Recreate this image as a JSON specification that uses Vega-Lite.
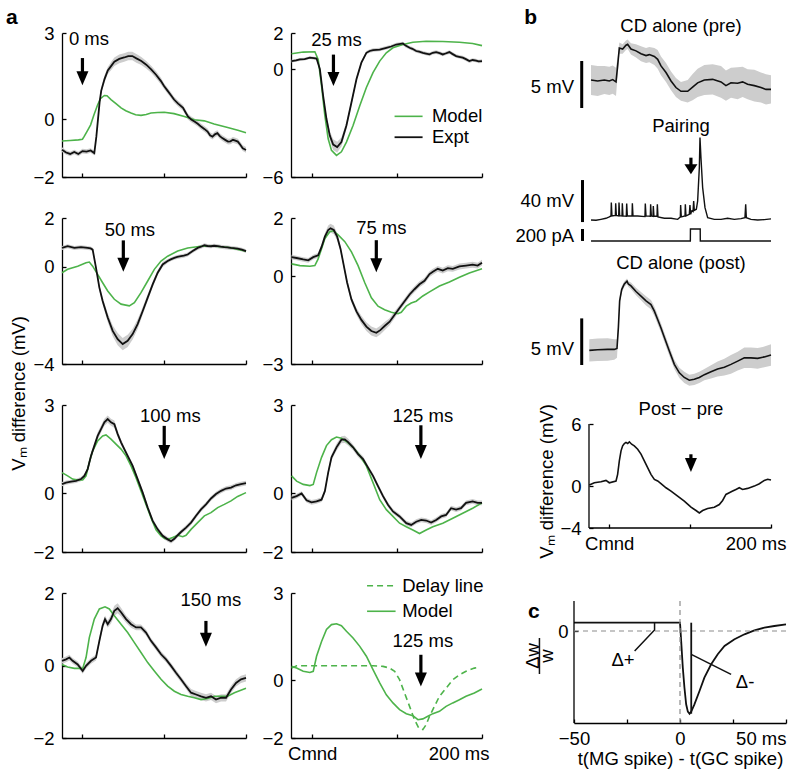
{
"$schema":"https://vega.github.io/schema/vega-lite/v6.json",
"padding":{"left":5,"top":6,"right":2,"bottom":2},
"columns":4,"align":"each","bounds":"flush","spacing":{"row":41,"column":45},
"config":{"font":"Liberation Sans","view":{"stroke":null},
"axis":{"domainColor":"#000","domainWidth":1.3,"tickColor":"#000","tickWidth":1.3,"tickSize":-4,"labelFontSize":18.5,"labelColor":"#000","labelFont":"Liberation Sans","grid":false,"titleFontSize":18.5,"titleFontWeight":"normal","titleColor":"#000","titleFont":"Liberation Sans","labelFlush":false,"labelOverlap":false},
"axisX":{"labelPadding":10},"axisY":{"labelPadding":12},
"text":{"font":"Liberation Sans","fontSize":18.5,"color":"#000"}},
"datasets":{
"arr":[{"p":"a1","t":0,"ys":2.13,"yh":1.43,"tx":8,"ty":2.79,"lab":"0 ms"},{"p":"a2","t":25,"ys":0.8,"yh":-0.55,"tx":28.6,"ty":1.59,"lab":"25 ms"},{"p":"a3","t":50,"ys":1.08,"yh":0.08,"tx":58,"ty":1.52,"lab":"50 ms"},{"p":"a4","t":75.5,"ys":1.24,"yh":0.38,"tx":81.4,"ty":1.65,"lab":"75 ms"},{"p":"a5","t":100,"ys":2.29,"yh":1.4,"tx":107.5,"ty":2.61,"lab":"100 ms"},{"p":"a6","t":128,"ys":2.31,"yh":1.4,"tx":130.3,"ty":2.63,"lab":"125 ms"},{"p":"a7","t":151,"ys":1.23,"yh":0.71,"tx":157,"ty":1.81,"lab":"150 ms"},{"p":"a8","t":128,"ys":0.87,"yh":0.02,"tx":130.3,"ty":1.36,"lab":"125 ms"},{"p":"pair","t":101,"ys":59.3,"yh":48.3,"tx":101,"ty":70,"lab":""},{"p":"pp","t":101,"ys":3.09,"yh":2.06,"tx":101,"ty":4,"lab":""}],
"tk":[{"p":"a1","v":-1},{"p":"a1","v":1},{"p":"a1","v":2},{"p":"a2","v":-4},{"p":"a2","v":-2},{"p":"a3","v":-2},{"p":"a4","v":-2},{"p":"a4","v":-1},{"p":"a4","v":1},{"p":"a5","v":-1},{"p":"a5","v":1},{"p":"a5","v":2},{"p":"a6","v":-1},{"p":"a6","v":1},{"p":"a6","v":2},{"p":"a7","v":-1},{"p":"a7","v":1},{"p":"a8","v":-1},{"p":"a8","v":1},{"p":"a8","v":2},{"p":"pp","v":-2},{"p":"pp","v":2},{"p":"pp","v":4}],
"leg":[{"p":"a2","x1":97,"x2":130,"ly":-2.63,"tx":141,"lab":"Model"},{"p":"a2","x1":97,"x2":130,"ly":-3.79,"tx":141,"lab":"Expt"},{"p":"a8","x1":64.6,"x2":98.2,"ly":3.25,"tx":106,"lab":"Delay line"},{"p":"a8","x1":64.6,"x2":98.2,"ly":2.37,"tx":106,"lab":"Model"}],
"sb":[{"p":"pre","t":-34,"y1":-2.98,"y2":2.02,"tx":-43.5,"ty":-0.74,"lab":"5 mV"},{"p":"pair","t":-33,"y1":-2,"y2":38,"tx":-43.5,"ty":18,"lab":"40 mV"},{"p":"pair","t":-33,"y1":-20,"y2":-8.6,"tx":-43.5,"ty":-15.2,"lab":"200 pA"},{"p":"post","t":-34,"y1":-1.57,"y2":3.42,"tx":-43.5,"ty":0.14,"lab":"5 mV"}],
"a1e":[{"t":-25,"e":-1.05,"w":0.08},{"t":-20,"e":-1.15,"w":0.08},{"t":-15,"e":-1.2,"w":0.08},{"t":-10,"e":-1.13,"w":0.08},{"t":-5,"e":-1.2,"w":0.08},{"t":0,"e":-1.1,"w":0.08},{"t":5,"e":-1.12,"w":0.08},{"t":10,"e":-1.08,"w":0.08},{"t":14.5,"e":-1.17,"w":0.08},{"t":17,"e":-0.6,"w":0.1},{"t":19,"e":0,"w":0.1},{"t":21,"e":0.6,"w":0.1},{"t":23,"e":1,"w":0.1},{"t":27,"e":1.4,"w":0.12},{"t":31,"e":1.7,"w":0.12},{"t":35,"e":1.85,"w":0.14},{"t":39,"e":2,"w":0.15},{"t":45,"e":2.1,"w":0.15},{"t":51,"e":2.15,"w":0.15},{"t":56,"e":2.2,"w":0.15},{"t":61,"e":2.2,"w":0.15},{"t":66,"e":2.12,"w":0.15},{"t":72,"e":2.03,"w":0.14},{"t":78,"e":1.9,"w":0.13},{"t":84,"e":1.74,"w":0.12},{"t":90,"e":1.55,"w":0.12},{"t":96,"e":1.33,"w":0.12},{"t":100,"e":1.15,"w":0.1},{"t":104,"e":1,"w":0.1},{"t":108,"e":0.85,"w":0.1},{"t":112,"e":0.69,"w":0.1},{"t":117,"e":0.55,"w":0.1},{"t":123,"e":0.4,"w":0.1},{"t":126,"e":0.25,"w":0.1},{"t":129,"e":0.1,"w":0.1},{"t":133,"e":0,"w":0.1},{"t":137,"e":-0.07,"w":0.1},{"t":141,"e":-0.15,"w":0.1},{"t":145,"e":-0.25,"w":0.1},{"t":149,"e":-0.33,"w":0.1},{"t":153,"e":-0.42,"w":0.1},{"t":156,"e":-0.55,"w":0.1},{"t":159,"e":-0.6,"w":0.1},{"t":162,"e":-0.52,"w":0.1},{"t":165,"e":-0.48,"w":0.1},{"t":168,"e":-0.58,"w":0.1},{"t":171,"e":-0.65,"w":0.1},{"t":175,"e":-0.72,"w":0.1},{"t":178,"e":-0.77,"w":0.1},{"t":181,"e":-0.76,"w":0.1},{"t":184,"e":-0.71,"w":0.1},{"t":187,"e":-0.74,"w":0.1},{"t":190,"e":-0.77,"w":0.1},{"t":193,"e":-0.88,"w":0.1},{"t":196,"e":-1,"w":0.1},{"t":200,"e":-1.06,"w":0.1}],
"a1m":[{"t":-25,"m":-0.75},{"t":-15,"m":-0.73},{"t":-5,"m":-0.71},{"t":0,"m":-0.69},{"t":2,"m":-0.6},{"t":6,"m":-0.4},{"t":10,"m":-0.19},{"t":14,"m":0.15},{"t":18.6,"m":0.51},{"t":22,"m":0.72},{"t":26.8,"m":0.83},{"t":30,"m":0.82},{"t":34.9,"m":0.69},{"t":41,"m":0.55},{"t":47.2,"m":0.4},{"t":53,"m":0.3},{"t":59.4,"m":0.22},{"t":65,"m":0.16},{"t":71.6,"m":0.14},{"t":78,"m":0.17},{"t":83.8,"m":0.22},{"t":92,"m":0.24},{"t":100,"m":0.25},{"t":112,"m":0.2},{"t":124.6,"m":0.1},{"t":136.8,"m":-0.01},{"t":149,"m":-0.05},{"t":161,"m":-0.16},{"t":177.6,"m":-0.28},{"t":190,"m":-0.38},{"t":200,"m":-0.46}],
"a2e":[{"t":-24.3,"e":0.44,"w":0.08},{"t":-19,"e":0.48,"w":0.08},{"t":-14.5,"e":0.53,"w":0.08},{"t":-9,"e":0.55,"w":0.08},{"t":-2.7,"e":0.63,"w":0.08},{"t":2,"e":0.6,"w":0.08},{"t":5.1,"e":0.58,"w":0.08},{"t":9,"e":0,"w":0.1},{"t":12.9,"e":-1.5,"w":0.15},{"t":16.8,"e":-2.78,"w":0.2},{"t":20.7,"e":-3.7,"w":0.25},{"t":24.7,"e":-4.2,"w":0.3},{"t":29.4,"e":-4.34,"w":0.3},{"t":34.4,"e":-4.06,"w":0.25},{"t":40.3,"e":-3.14,"w":0.2},{"t":46.2,"e":-1.86,"w":0.15},{"t":52.1,"e":-0.57,"w":0.12},{"t":57.9,"e":0.35,"w":0.1},{"t":63.8,"e":0.9,"w":0.1},{"t":67.7,"e":1,"w":0.1},{"t":71.6,"e":1.05,"w":0.1},{"t":79.5,"e":1.08,"w":0.1},{"t":87.3,"e":1.18,"w":0.1},{"t":93,"e":1.25,"w":0.1},{"t":99,"e":1.36,"w":0.1},{"t":106.8,"e":1.42,"w":0.1},{"t":110,"e":1.3,"w":0.1},{"t":114.7,"e":1.18,"w":0.1},{"t":118,"e":1.12,"w":0.1},{"t":122.5,"e":1,"w":0.1},{"t":126,"e":0.96,"w":0.1},{"t":130.3,"e":0.9,"w":0.1},{"t":134,"e":0.86,"w":0.1},{"t":138.2,"e":0.81,"w":0.1},{"t":142,"e":0.9,"w":0.1},{"t":146,"e":0.94,"w":0.1},{"t":150,"e":0.88,"w":0.1},{"t":153.8,"e":0.81,"w":0.1},{"t":157,"e":0.86,"w":0.1},{"t":161.6,"e":0.94,"w":0.1},{"t":165,"e":0.84,"w":0.1},{"t":169.5,"e":0.72,"w":0.1},{"t":173,"e":0.68,"w":0.1},{"t":177.3,"e":0.63,"w":0.1},{"t":181,"e":0.55,"w":0.1},{"t":185.1,"e":0.44,"w":0.1},{"t":189,"e":0.5,"w":0.1},{"t":193,"e":0.47,"w":0.1},{"t":196,"e":0.42,"w":0.1},{"t":200,"e":0.44,"w":0.1}],
"a2m":[{"t":-24.3,"m":0.85},{"t":-10.6,"m":0.94},{"t":3.1,"m":0.96},{"t":7,"m":0.53},{"t":11,"m":-0.94},{"t":14.9,"m":-2.59},{"t":18.8,"m":-3.88},{"t":22.7,"m":-4.52},{"t":28.6,"m":-4.8},{"t":34.4,"m":-4.6},{"t":40.3,"m":-4.06},{"t":48.1,"m":-3.14},{"t":56,"m":-2.04},{"t":63.8,"m":-1.03},{"t":71.6,"m":-0.2},{"t":79.5,"m":0.44},{"t":87.3,"m":0.9},{"t":95.1,"m":1.18},{"t":106.8,"m":1.36},{"t":118.6,"m":1.49},{"t":134.2,"m":1.54},{"t":153.8,"m":1.53},{"t":173.4,"m":1.49},{"t":189,"m":1.42},{"t":200,"m":1.3}],
"a3e":[{"t":-25,"e":0.77,"w":0.08},{"t":-18.1,"e":0.84,"w":0.08},{"t":-9.9,"e":0.77,"w":0.08},{"t":-1.8,"e":0.8,"w":0.08},{"t":6.4,"e":0.77,"w":0.08},{"t":10,"e":0.75,"w":0.08},{"t":12.5,"e":0.7,"w":0.08},{"t":16.6,"e":-0.05,"w":0.1},{"t":20.7,"e":-0.86,"w":0.12},{"t":24.7,"e":-1.41,"w":0.14},{"t":30.9,"e":-2.09,"w":0.18},{"t":37,"e":-2.64,"w":0.22},{"t":43.1,"e":-2.98,"w":0.25},{"t":49.2,"e":-3.18,"w":0.25},{"t":55.3,"e":-3.05,"w":0.25},{"t":61.4,"e":-2.77,"w":0.22},{"t":67.5,"e":-2.36,"w":0.2},{"t":73.7,"e":-1.82,"w":0.16},{"t":79.8,"e":-1.27,"w":0.14},{"t":85.9,"e":-0.73,"w":0.12},{"t":92,"e":-0.25,"w":0.1},{"t":98.1,"e":0.09,"w":0.1},{"t":104.2,"e":0.23,"w":0.08},{"t":108,"e":0.3,"w":0.08},{"t":112.4,"e":0.36,"w":0.08},{"t":116,"e":0.4,"w":0.08},{"t":120.5,"e":0.43,"w":0.08},{"t":124,"e":0.45,"w":0.08},{"t":128.7,"e":0.5,"w":0.08},{"t":134.8,"e":0.64,"w":0.08},{"t":140.9,"e":0.77,"w":0.08},{"t":145,"e":0.82,"w":0.08},{"t":149.1,"e":0.88,"w":0.08},{"t":153,"e":0.85,"w":0.08},{"t":157.2,"e":0.84,"w":0.08},{"t":161,"e":0.86,"w":0.08},{"t":165.4,"e":0.84,"w":0.08},{"t":169,"e":0.82,"w":0.08},{"t":173.5,"e":0.8,"w":0.08},{"t":177,"e":0.79,"w":0.08},{"t":181.7,"e":0.77,"w":0.08},{"t":185,"e":0.76,"w":0.08},{"t":189.8,"e":0.74,"w":0.08},{"t":195,"e":0.7,"w":0.08},{"t":200,"e":0.64,"w":0.08}],
"a3m":[{"t":-25,"m":-0.25},{"t":-18.1,"m":-0.11},{"t":-5.8,"m":0.02},{"t":4.4,"m":0.16},{"t":8.4,"m":0.19},{"t":12.5,"m":0.02},{"t":18.6,"m":-0.32},{"t":24.7,"m":-0.66},{"t":30.9,"m":-1},{"t":39,"m":-1.34},{"t":47.2,"m":-1.54},{"t":57.3,"m":-1.61},{"t":63.5,"m":-1.48},{"t":71.6,"m":-1.07},{"t":79.8,"m":-0.59},{"t":87.9,"m":-0.11},{"t":96.1,"m":0.23},{"t":104.2,"m":0.43},{"t":116.5,"m":0.64},{"t":128.7,"m":0.77},{"t":145,"m":0.84},{"t":161.3,"m":0.84},{"t":177.6,"m":0.8},{"t":200,"m":0.64}],
"a4e":[{"t":-24.3,"e":0.66,"w":0.08},{"t":-18.4,"e":0.63,"w":0.08},{"t":-10.6,"e":0.58,"w":0.08},{"t":-4.7,"e":0.55,"w":0.08},{"t":1.2,"e":0.66,"w":0.08},{"t":7,"e":0.72,"w":0.08},{"t":11,"e":1.01,"w":0.1},{"t":14.9,"e":1.36,"w":0.12},{"t":18.8,"e":1.59,"w":0.15},{"t":21.5,"e":1.65,"w":0.15},{"t":25.4,"e":1.59,"w":0.15},{"t":29.4,"e":1.36,"w":0.12},{"t":33.3,"e":0.95,"w":0.1},{"t":37.2,"e":0.37,"w":0.1},{"t":41.1,"e":-0.21,"w":0.1},{"t":46.2,"e":-0.79,"w":0.1},{"t":52.1,"e":-1.2,"w":0.12},{"t":57.9,"e":-1.49,"w":0.14},{"t":63.8,"e":-1.72,"w":0.15},{"t":69.7,"e":-1.87,"w":0.15},{"t":75.5,"e":-1.93,"w":0.15},{"t":80.2,"e":-1.84,"w":0.15},{"t":85.3,"e":-1.7,"w":0.14},{"t":91.2,"e":-1.55,"w":0.12},{"t":97.1,"e":-1.31,"w":0.12},{"t":102.9,"e":-1.08,"w":0.1},{"t":108.8,"e":-0.85,"w":0.1},{"t":114.7,"e":-0.62,"w":0.1},{"t":120.5,"e":-0.44,"w":0.1},{"t":126.4,"e":-0.27,"w":0.1},{"t":132.3,"e":-0.15,"w":0.1},{"t":138.2,"e":0.08,"w":0.1},{"t":142.1,"e":0.16,"w":0.1},{"t":147.9,"e":0.26,"w":0.1},{"t":153.8,"e":0.2,"w":0.1},{"t":159.7,"e":0.28,"w":0.1},{"t":165.6,"e":0.26,"w":0.1},{"t":173.4,"e":0.34,"w":0.1},{"t":181.2,"e":0.37,"w":0.1},{"t":189,"e":0.4,"w":0.1},{"t":194.9,"e":0.37,"w":0.1},{"t":200,"e":0.47,"w":0.1}],
"a4m":[{"t":-24.3,"m":0.43},{"t":-14.5,"m":0.37},{"t":-2.7,"m":0.35},{"t":3.1,"m":0.37},{"t":7,"m":0.6},{"t":11,"m":0.95},{"t":14.9,"m":1.3},{"t":20.7,"m":1.53},{"t":24.7,"m":1.56},{"t":30.5,"m":1.42},{"t":38.4,"m":1.19},{"t":46.2,"m":0.84},{"t":54,"m":0.37},{"t":61.8,"m":-0.21},{"t":69.7,"m":-0.73},{"t":77.5,"m":-1.02},{"t":85.3,"m":-1.14},{"t":93.2,"m":-1.23},{"t":101,"m":-1.28},{"t":104.9,"m":-1.23},{"t":110.8,"m":-1.02},{"t":116.6,"m":-0.91},{"t":122.5,"m":-0.85},{"t":130.3,"m":-0.67},{"t":138.2,"m":-0.53},{"t":149.9,"m":-0.33},{"t":161.6,"m":-0.19},{"t":173.4,"m":-0.03},{"t":185.1,"m":0.12},{"t":200,"m":0.26}],
"a5e":[{"t":-25,"e":0.31,"w":0.07},{"t":-20.1,"e":0.36,"w":0.07},{"t":-14,"e":0.39,"w":0.07},{"t":-7.9,"e":0.42,"w":0.07},{"t":-1.8,"e":0.48,"w":0.07},{"t":2.3,"e":0.59,"w":0.07},{"t":6.4,"e":0.82,"w":0.08},{"t":10.5,"e":1.27,"w":0.1},{"t":14.5,"e":1.61,"w":0.1},{"t":18.6,"e":1.95,"w":0.12},{"t":22.7,"e":2.18,"w":0.12},{"t":26.8,"e":2.41,"w":0.12},{"t":30.9,"e":2.52,"w":0.12},{"t":34.9,"e":2.41,"w":0.12},{"t":39,"e":2.35,"w":0.12},{"t":43.1,"e":2.01,"w":0.1},{"t":47.2,"e":1.73,"w":0.1},{"t":51.2,"e":1.5,"w":0.08},{"t":55.3,"e":1.27,"w":0.08},{"t":61.4,"e":0.93,"w":0.08},{"t":67.5,"e":0.48,"w":0.08},{"t":73.7,"e":0.02,"w":0.08},{"t":79.8,"e":-0.49,"w":0.08},{"t":85.9,"e":-0.94,"w":0.08},{"t":92,"e":-1.23,"w":0.08},{"t":98.1,"e":-1.45,"w":0.08},{"t":104.2,"e":-1.57,"w":0.08},{"t":108.3,"e":-1.63,"w":0.08},{"t":112.4,"e":-1.55,"w":0.08},{"t":116.5,"e":-1.43,"w":0.08},{"t":120.5,"e":-1.32,"w":0.08},{"t":126.7,"e":-1.17,"w":0.08},{"t":132.8,"e":-1,"w":0.08},{"t":138.9,"e":-0.77,"w":0.08},{"t":145,"e":-0.55,"w":0.08},{"t":151.1,"e":-0.38,"w":0.08},{"t":157.2,"e":-0.18,"w":0.08},{"t":163.3,"e":-0.03,"w":0.08},{"t":169.5,"e":0.08,"w":0.08},{"t":175.6,"e":0.16,"w":0.08},{"t":181.7,"e":0.19,"w":0.08},{"t":187.8,"e":0.27,"w":0.08},{"t":193.9,"e":0.31,"w":0.08},{"t":200,"e":0.34,"w":0.08}],
"a5m":[{"t":-25,"m":0.7},{"t":-18.1,"m":0.59},{"t":-12,"m":0.48},{"t":-5.8,"m":0.45},{"t":0.3,"m":0.45},{"t":4.4,"m":0.59},{"t":8.4,"m":1.05},{"t":12.5,"m":1.44},{"t":18.6,"m":1.78},{"t":24.7,"m":1.95},{"t":28.8,"m":1.98},{"t":34.9,"m":1.84},{"t":41,"m":1.67},{"t":47.2,"m":1.5},{"t":53.3,"m":1.27},{"t":59.4,"m":0.93},{"t":65.5,"m":0.53},{"t":71.6,"m":0.08},{"t":77.7,"m":-0.38},{"t":83.8,"m":-0.83},{"t":90,"m":-1.25},{"t":96.1,"m":-1.45},{"t":101,"m":-1.55},{"t":106.3,"m":-1.55},{"t":110.3,"m":-1.51},{"t":116.5,"m":-1.43},{"t":122.6,"m":-1.48},{"t":126.7,"m":-1.43},{"t":132.8,"m":-1.23},{"t":140.9,"m":-1},{"t":149.1,"m":-0.77},{"t":157.2,"m":-0.66},{"t":165.4,"m":-0.49},{"t":173.5,"m":-0.38},{"t":181.7,"m":-0.26},{"t":189.8,"m":-0.11},{"t":200,"m":0.02}],
"a6e":[{"t":-24.3,"e":-0.16,"w":0.08},{"t":-18.4,"e":-0.1,"w":0.08},{"t":-12.5,"e":-0.01,"w":0.08},{"t":-6.7,"e":-0.24,"w":0.08},{"t":-0.8,"e":-0.31,"w":0.08},{"t":5.1,"e":-0.28,"w":0.08},{"t":11,"e":-0.22,"w":0.08},{"t":14.9,"e":0.07,"w":0.08},{"t":18.8,"e":0.7,"w":0.1},{"t":22.7,"e":1.22,"w":0.1},{"t":28.6,"e":1.56,"w":0.12},{"t":34.4,"e":1.82,"w":0.12},{"t":38.4,"e":1.83,"w":0.12},{"t":42.3,"e":1.74,"w":0.12},{"t":48.1,"e":1.56,"w":0.1},{"t":54,"e":1.33,"w":0.1},{"t":59.9,"e":1.16,"w":0.1},{"t":65.8,"e":0.87,"w":0.08},{"t":71.6,"e":0.59,"w":0.08},{"t":77.5,"e":0.24,"w":0.08},{"t":83.4,"e":-0.1,"w":0.08},{"t":89.2,"e":-0.39,"w":0.08},{"t":95.1,"e":-0.62,"w":0.08},{"t":102.9,"e":-0.79,"w":0.08},{"t":110.8,"e":-1.02,"w":0.08},{"t":116.6,"e":-1.08,"w":0.08},{"t":122.5,"e":-0.97,"w":0.08},{"t":128.4,"e":-0.91,"w":0.08},{"t":134.2,"e":-0.93,"w":0.08},{"t":140.1,"e":-1,"w":0.08},{"t":146,"e":-0.91,"w":0.08},{"t":151.9,"e":-0.79,"w":0.08},{"t":157.7,"e":-0.74,"w":0.08},{"t":163.6,"e":-0.51,"w":0.08},{"t":169.5,"e":-0.56,"w":0.08},{"t":175.3,"e":-0.51,"w":0.08},{"t":181.2,"e":-0.33,"w":0.08},{"t":189,"e":-0.28,"w":0.08},{"t":194.9,"e":-0.33,"w":0.08},{"t":200,"e":-0.33,"w":0.08}],
"a6m":[{"t":-24.3,"m":0.59},{"t":-18.4,"m":0.41},{"t":-10.6,"m":0.3},{"t":-2.7,"m":0.26},{"t":1.2,"m":0.3},{"t":5.1,"m":0.7},{"t":11,"m":1.22},{"t":16.8,"m":1.62},{"t":22.7,"m":1.82},{"t":28.6,"m":1.91},{"t":34.4,"m":1.87},{"t":40.3,"m":1.76},{"t":48.1,"m":1.56},{"t":56,"m":1.28},{"t":63.8,"m":0.93},{"t":71.6,"m":0.36},{"t":79.5,"m":-0.22},{"t":87.3,"m":-0.56},{"t":95.1,"m":-0.79},{"t":102.9,"m":-1.02},{"t":110.8,"m":-1.14},{"t":118.6,"m":-1.25},{"t":126.4,"m":-1.37},{"t":134.2,"m":-1.25},{"t":142.1,"m":-1.14},{"t":153.8,"m":-1.02},{"t":165.6,"m":-0.85},{"t":177.3,"m":-0.68},{"t":189,"m":-0.51},{"t":200,"m":-0.33}],
"a7e":[{"t":-25,"e":0.13,"w":0.08},{"t":-20.1,"e":0.17,"w":0.08},{"t":-16,"e":0.22,"w":0.08},{"t":-12,"e":0.13,"w":0.08},{"t":-5.8,"e":0.03,"w":0.08},{"t":0.3,"e":-0.15,"w":0.08},{"t":4.4,"e":-0.01,"w":0.08},{"t":10.5,"e":0.13,"w":0.08},{"t":16.6,"e":0.22,"w":0.08},{"t":20.7,"e":0.68,"w":0.1},{"t":24.7,"e":1.1,"w":0.1},{"t":27.6,"e":1.28,"w":0.1},{"t":30.9,"e":1.14,"w":0.1},{"t":34.9,"e":1.28,"w":0.12},{"t":39,"e":1.51,"w":0.14},{"t":43.1,"e":1.58,"w":0.14},{"t":47.2,"e":1.47,"w":0.12},{"t":53.3,"e":1.28,"w":0.1},{"t":59.4,"e":1.14,"w":0.1},{"t":65.5,"e":1.05,"w":0.08},{"t":71.6,"e":1.05,"w":0.08},{"t":77.7,"e":0.91,"w":0.08},{"t":83.8,"e":0.68,"w":0.08},{"t":90,"e":0.5,"w":0.08},{"t":96.1,"e":0.31,"w":0.08},{"t":102.2,"e":0.17,"w":0.08},{"t":108.3,"e":-0.01,"w":0.08},{"t":114.4,"e":-0.2,"w":0.08},{"t":120.5,"e":-0.38,"w":0.08},{"t":126.7,"e":-0.57,"w":0.08},{"t":132.8,"e":-0.75,"w":0.1},{"t":138.9,"e":-0.8,"w":0.1},{"t":145,"e":-0.85,"w":0.1},{"t":151.1,"e":-0.89,"w":0.1},{"t":157.2,"e":-0.85,"w":0.1},{"t":163.3,"e":-0.94,"w":0.1},{"t":169.5,"e":-0.89,"w":0.1},{"t":175.6,"e":-0.89,"w":0.1},{"t":181.7,"e":-0.66,"w":0.1},{"t":187.8,"e":-0.48,"w":0.1},{"t":193.9,"e":-0.38,"w":0.1},{"t":200,"e":-0.34,"w":0.1}],
"a7m":[{"t":-25,"m":0.03},{"t":-18.1,"m":-0.04},{"t":-9.9,"m":-0.08},{"t":0.3,"m":-0.08},{"t":4.4,"m":0.22},{"t":8.4,"m":0.77},{"t":14.5,"m":1.28},{"t":20.7,"m":1.56},{"t":27.6,"m":1.62},{"t":32.9,"m":1.56},{"t":39,"m":1.37},{"t":47.2,"m":1.14},{"t":55.3,"m":0.91},{"t":63.5,"m":0.63},{"t":71.6,"m":0.36},{"t":79.8,"m":0.08},{"t":87.9,"m":-0.15},{"t":96.1,"m":-0.38},{"t":104.2,"m":-0.57},{"t":112.4,"m":-0.71},{"t":120.5,"m":-0.8},{"t":128.7,"m":-0.85},{"t":136.8,"m":-0.89},{"t":145,"m":-0.94},{"t":153.1,"m":-0.91},{"t":161.3,"m":-0.85},{"t":169.5,"m":-0.85},{"t":177.6,"m":-0.85},{"t":185.8,"m":-0.75},{"t":200,"m":-0.63}],
"a8m":[{"t":-24.3,"m":0.47},{"t":-18.4,"m":0.41},{"t":-10.6,"m":0.3},{"t":-2.7,"m":0.26},{"t":1.2,"m":0.3},{"t":5.1,"m":0.82},{"t":11,"m":1.33},{"t":16.8,"m":1.74},{"t":22.7,"m":1.91},{"t":28.6,"m":1.94},{"t":34.4,"m":1.87},{"t":40.3,"m":1.68},{"t":48.1,"m":1.45},{"t":56,"m":1.16},{"t":63.8,"m":0.82},{"t":71.6,"m":0.36},{"t":79.5,"m":-0.1},{"t":87.3,"m":-0.51},{"t":95.1,"m":-0.79},{"t":102.9,"m":-1.02},{"t":110.8,"m":-1.16},{"t":118.6,"m":-1.23},{"t":124.5,"m":-1.37},{"t":130.3,"m":-1.34},{"t":136.2,"m":-1.25},{"t":142.1,"m":-1.16},{"t":149.9,"m":-1.08},{"t":157.7,"m":-0.91},{"t":165.6,"m":-0.79},{"t":173.4,"m":-0.68},{"t":181.2,"m":-0.56},{"t":191,"m":-0.45},{"t":200,"m":-0.31}],
"a8d":[{"t":-24.3,"m":0.41},{"t":-18.4,"m":0.49},{"t":-2.7,"m":0.49},{"t":16.8,"m":0.49},{"t":36.4,"m":0.49},{"t":56,"m":0.49},{"t":71.6,"m":0.49},{"t":83.4,"m":0.47},{"t":91.2,"m":0.41},{"t":97.1,"m":0.3},{"t":102.9,"m":0.01},{"t":108.8,"m":-0.45},{"t":114.7,"m":-0.91},{"t":120.5,"m":-1.37},{"t":125.6,"m":-1.66},{"t":130.3,"m":-1.71},{"t":134.2,"m":-1.54},{"t":138.2,"m":-1.25},{"t":144,"m":-0.91},{"t":149.9,"m":-0.56},{"t":157.7,"m":-0.28},{"t":165.6,"m":0.01},{"t":173.4,"m":0.18},{"t":181.2,"m":0.3},{"t":191,"m":0.41},{"t":196.9,"m":0.44}],
"pre":[{"t":-22.5,"v":0,"w":1.6},{"t":-14.3,"v":-0.1,"w":1.6},{"t":-6,"v":0,"w":1.5},{"t":0.1,"v":-0.1,"w":1.5},{"t":4.3,"v":0.04,"w":1.5},{"t":8.4,"v":-0.2,"w":1.5},{"t":10.4,"v":1.5,"w":1},{"t":12.5,"v":3.4,"w":0.6},{"t":16.6,"v":3.3,"w":0.5},{"t":20.7,"v":3.7,"w":0.5},{"t":22.8,"v":3.8,"w":0.5},{"t":26.9,"v":3.3,"w":0.6},{"t":33.1,"v":3.1,"w":0.7},{"t":39.3,"v":2.8,"w":0.8},{"t":45.5,"v":2.6,"w":0.8},{"t":49.6,"v":2.7,"w":0.8},{"t":55.8,"v":2.5,"w":0.9},{"t":59.9,"v":2.2,"w":1},{"t":64,"v":1.5,"w":1},{"t":70.2,"v":0.8,"w":1},{"t":76.4,"v":-0.1,"w":1},{"t":82.5,"v":-0.8,"w":1},{"t":88.7,"v":-1.2,"w":1},{"t":97,"v":-1.2,"w":1.2},{"t":103.1,"v":-0.75,"w":1.4},{"t":109.3,"v":-0.3,"w":1.5},{"t":117.6,"v":0,"w":1.6},{"t":127.9,"v":0.07,"w":1.6},{"t":138.2,"v":-0.2,"w":1.7},{"t":144.3,"v":-0.6,"w":1.6},{"t":150.5,"v":-0.3,"w":1.6},{"t":158.7,"v":-0.35,"w":1.7},{"t":164.9,"v":-0.2,"w":1.6},{"t":171.1,"v":-0.45,"w":1.6},{"t":179.4,"v":-0.6,"w":1.7},{"t":187.6,"v":-0.8,"w":1.6},{"t":193.8,"v":-1,"w":1.6},{"t":200,"v":-1,"w":1.5}],
"pair":[{"t":-22.5,"v":0},{"t":-16.3,"v":-0.3},{"t":-10.2,"v":0.6},{"t":-4,"v":1.6},{"t":0.1,"v":2.9},{"t":2.2,"v":3.8},{"t":2.6,"v":16.5},{"t":3.4,"v":3.8},{"t":7.6,"v":4.4},{"t":8,"v":15.9},{"t":8.8,"v":4.4},{"t":11.7,"v":3.8},{"t":12.1,"v":16.5},{"t":12.9,"v":4.1},{"t":15.8,"v":3.8},{"t":16.2,"v":15.9},{"t":17,"v":3.8},{"t":21.1,"v":3.5},{"t":21.6,"v":15.6},{"t":22.4,"v":3.8},{"t":28.2,"v":3.8},{"t":28.6,"v":15.9},{"t":29.4,"v":3.8},{"t":35.2,"v":3.8},{"t":44.2,"v":3.2},{"t":44.6,"v":15.6},{"t":45.5,"v":3.8},{"t":50.8,"v":3.5},{"t":51.2,"v":15},{"t":52.1,"v":3.8},{"t":54.1,"v":3.5},{"t":54.5,"v":13.3},{"t":55.3,"v":3.5},{"t":59.1,"v":3.5},{"t":59.5,"v":15},{"t":60.3,"v":2.9},{"t":68.1,"v":1.6},{"t":76.4,"v":1.6},{"t":84.6,"v":0.6},{"t":87.9,"v":2.9},{"t":88.3,"v":14.3},{"t":89.1,"v":2.9},{"t":93.7,"v":3.8},{"t":94.1,"v":15},{"t":94.9,"v":3.8},{"t":99,"v":5.4},{"t":99.8,"v":14.3},{"t":100.7,"v":5.4},{"t":101.9,"v":8.6},{"t":103.6,"v":7.9},{"t":104.4,"v":18},{"t":105.2,"v":9.2},{"t":107.7,"v":10.2},{"t":109.3,"v":18},{"t":111.4,"v":49.8},{"t":112.2,"v":78.4},{"t":113.4,"v":59.4},{"t":115.5,"v":30.8},{"t":118.4,"v":11.7},{"t":121.7,"v":2.2},{"t":129.9,"v":0.6},{"t":138.2,"v":0.6},{"t":146.4,"v":1.6},{"t":154.6,"v":0.6},{"t":162.9,"v":1.3},{"t":167.8,"v":2.2},{"t":168.7,"v":15},{"t":169.5,"v":2.2},{"t":175.2,"v":0.6},{"t":183.5,"v":0},{"t":191.7,"v":0.3},{"t":200,"v":1}],
"cur":[{"t":-22.5,"v":-20},{"t":100.3,"v":-20},{"t":100.4,"v":-8.6},{"t":112.5,"v":-8.6},{"t":112.6,"v":-20},{"t":200,"v":-20}],
"post":[{"t":-24.6,"v":0,"w":1.2},{"t":-14.3,"v":0.07,"w":1.2},{"t":-1.9,"v":0.1,"w":1.2},{"t":6.3,"v":0.1,"w":1.1},{"t":9.6,"v":0.2,"w":1},{"t":11.3,"v":2.4,"w":0.6},{"t":12.9,"v":5.3,"w":0.4},{"t":15.4,"v":6.5,"w":0.35},{"t":18.7,"v":7.1,"w":0.3},{"t":22,"v":7.4,"w":0.3},{"t":23.6,"v":7.1,"w":0.3},{"t":26.9,"v":6.9,"w":0.35},{"t":33.1,"v":6.3,"w":0.4},{"t":39.3,"v":5.8,"w":0.45},{"t":45.5,"v":5.3,"w":0.5},{"t":51.6,"v":4.9,"w":0.5},{"t":55.8,"v":4.2,"w":0.5},{"t":59.9,"v":3.3,"w":0.5},{"t":64,"v":2.4,"w":0.5},{"t":68.1,"v":1.4,"w":0.5},{"t":74.3,"v":-0.07,"w":0.5},{"t":80.5,"v":-1.5,"w":0.5},{"t":86.7,"v":-2.4,"w":0.55},{"t":92.8,"v":-2.9,"w":0.6},{"t":99,"v":-3.2,"w":0.6},{"t":105.2,"v":-3.1,"w":0.6},{"t":111.4,"v":-2.9,"w":0.6},{"t":117.6,"v":-2.6,"w":0.6},{"t":125.8,"v":-2.3,"w":0.7},{"t":134,"v":-2,"w":0.8},{"t":142.3,"v":-1.8,"w":0.9},{"t":150.5,"v":-1.5,"w":1},{"t":158.8,"v":-1.15,"w":1},{"t":167,"v":-0.8,"w":1.1},{"t":175.2,"v":-0.8,"w":1.1},{"t":183.5,"v":-0.86,"w":1.1},{"t":191.7,"v":-0.7,"w":1.1},{"t":200,"v":-0.5,"w":1.15}],
"pp":[{"t":-24.6,"v":0.13},{"t":-18.4,"v":0.35},{"t":-10.2,"v":0.45},{"t":-4,"v":0.58},{"t":0.1,"v":0.35},{"t":8.4,"v":0.52},{"t":10.4,"v":1.16},{"t":12.5,"v":2.45},{"t":14.6,"v":3.42},{"t":16.6,"v":3.9},{"t":18.7,"v":4.13},{"t":20.7,"v":4.23},{"t":22.8,"v":4.13},{"t":24.9,"v":4.29},{"t":27.7,"v":4.06},{"t":31,"v":3.9},{"t":35.2,"v":3.58},{"t":39.3,"v":3.1},{"t":43.4,"v":2.45},{"t":47.5,"v":1.81},{"t":51.6,"v":1.16},{"t":55.8,"v":0.68},{"t":59.9,"v":0.52},{"t":64,"v":0.26},{"t":70.2,"v":-0.13},{"t":76.4,"v":-0.45},{"t":84.6,"v":-0.94},{"t":92.8,"v":-1.42},{"t":101.1,"v":-2},{"t":107.3,"v":-2.32},{"t":111.4,"v":-2.55},{"t":115.5,"v":-2.32},{"t":121.7,"v":-2.13},{"t":129.9,"v":-2},{"t":136.1,"v":-1.74},{"t":140.2,"v":-1.35},{"t":144.3,"v":-0.77},{"t":148.4,"v":-0.61},{"t":152.6,"v":-0.45},{"t":156.7,"v":-0.29},{"t":160.8,"v":-0.13},{"t":164.9,"v":-0.29},{"t":171.1,"v":-0.19},{"t":179.4,"v":0.03},{"t":185.6,"v":0.26},{"t":191.7,"v":0.58},{"t":195.8,"v":0.68},{"t":200,"v":0.61}],
"cc":[{"t":-50,"y":0.83},{"t":0,"y":0.83},{"t":0.55,"y":-1},{"t":1.33,"y":-3.67},{"t":2.1,"y":-5.67},{"t":2.9,"y":-7.33},{"t":3.7,"y":-8.07},{"t":4.5,"y":-8.27},{"t":5.3,"y":-8.05},{"t":6.8,"y":-7.33},{"t":9.2,"y":-6},{"t":11.5,"y":-4.67},{"t":14.7,"y":-3.33},{"t":17.8,"y":-2.33},{"t":21,"y":-1.5},{"t":25.7,"y":-0.83},{"t":30.4,"y":-0.33},{"t":35.1,"y":0.07},{"t":39.8,"y":0.33},{"t":44.5,"y":0.5},{"t":50,"y":0.67}]
},
"concat":[
{"width":184,"height":144,
 "encoding":{"x":{"field":"t","type":"quantitative","scale":{"domain":[-25,200],"nice":false},"axis":{"values":[0,100,200],"labelExpr":"''","title":null}}},
 "layer":[
  {"data":{"name":"a1e"},"mark":{"type":"errorband","color":"#cdcdcd","opacity":1},"encoding":{"y":{"field":"e","type":"quantitative","scale":{"domain":[-2,3],"nice":false},"axis":{"values":[-2,0,3],"title":null}},"yError":{"field":"w"}}},
  {"data":{"name":"tk"},"transform":[{"filter":"datum.p=='a1'"}],"mark":{"type":"rule","color":"#000","strokeWidth":1.3},"encoding":{"x":{"datum":-25},"x2":{"datum":-20.1},"y":{"field":"v","type":"quantitative"}}},
  {"data":{"name":"a1m"},"mark":{"type":"line","color":"#4db34a","strokeWidth":1.6},"encoding":{"y":{"field":"m","type":"quantitative"}}},
  {"data":{"name":"a1e"},"mark":{"type":"line","color":"#111","strokeWidth":1.8},"encoding":{"y":{"field":"e","type":"quantitative"}}},
  {"data":{"name":"arr"},"transform":[{"filter":"datum.p=='a1'"}],"mark":{"type":"rule","strokeWidth":3.2,"color":"#000"},"encoding":{"y":{"field":"ys","type":"quantitative"},"y2":{"field":"yh"}}},
  {"data":{"name":"arr"},"transform":[{"filter":"datum.p=='a1'"}],"mark":{"type":"point","shape":"M-0.857,-1L0.857,-1L0,1Z","size":196,"filled":true,"opacity":1,"color":"#000"},"encoding":{"y":{"field":"yh","type":"quantitative"}}},
  {"data":{"name":"arr"},"transform":[{"filter":"datum.p=='a1'"}],"mark":{"type":"text"},"encoding":{"x":{"field":"tx","type":"quantitative"},"y":{"field":"ty","type":"quantitative"},"text":{"field":"lab"}}},
  {"data":{"values":[{"tx":-93.5,"ty":3.31,"lab":"a"}]},"mark":{"type":"text","align":"left","baseline":"alphabetic","fontSize":21,"fontWeight":"bold"},"encoding":{"x":{"field":"tx","type":"quantitative"},"y":{"field":"ty","type":"quantitative"},"text":{"field":"lab"}}}
 ]},
{"width":191,"height":144,
 "encoding":{"x":{"field":"t","type":"quantitative","scale":{"domain":[-25,200],"nice":false},"axis":{"values":[0,100,200],"labelExpr":"''","title":null}}},
 "layer":[
  {"data":{"name":"a2e"},"mark":{"type":"errorband","color":"#cdcdcd","opacity":1},"encoding":{"y":{"field":"e","type":"quantitative","scale":{"domain":[-6,2],"nice":false},"axis":{"values":[-6,0,2],"title":null}},"yError":{"field":"w"}}},
  {"data":{"name":"tk"},"transform":[{"filter":"datum.p=='a2'"}],"mark":{"type":"rule","color":"#000","strokeWidth":1.3},"encoding":{"x":{"datum":-25},"x2":{"datum":-20.3},"y":{"field":"v","type":"quantitative"}}},
  {"data":{"name":"a2m"},"mark":{"type":"line","color":"#4db34a","strokeWidth":1.6},"encoding":{"y":{"field":"m","type":"quantitative"}}},
  {"data":{"name":"a2e"},"mark":{"type":"line","color":"#111","strokeWidth":1.8},"encoding":{"y":{"field":"e","type":"quantitative"}}},
  {"data":{"name":"arr"},"transform":[{"filter":"datum.p=='a2'"}],"mark":{"type":"rule","strokeWidth":3.2,"color":"#000"},"encoding":{"y":{"field":"ys","type":"quantitative"},"y2":{"field":"yh"}}},
  {"data":{"name":"arr"},"transform":[{"filter":"datum.p=='a2'"}],"mark":{"type":"point","shape":"M-0.857,-1L0.857,-1L0,1Z","size":196,"filled":true,"opacity":1,"color":"#000"},"encoding":{"y":{"field":"yh","type":"quantitative"}}},
  {"data":{"name":"arr"},"transform":[{"filter":"datum.p=='a2'"}],"mark":{"type":"text"},"encoding":{"x":{"field":"tx","type":"quantitative"},"y":{"field":"ty","type":"quantitative"},"text":{"field":"lab"}}},
  {"data":{"name":"leg"},"transform":[{"filter":"datum.p=='a2' && datum.lab=='Model'"}],"mark":{"type":"rule","color":"#4db34a","strokeWidth":1.6},"encoding":{"x":{"field":"x1","type":"quantitative"},"x2":{"field":"x2"},"y":{"field":"ly","type":"quantitative"}}},
  {"data":{"name":"leg"},"transform":[{"filter":"datum.p=='a2' && datum.lab=='Expt'"}],"mark":{"type":"rule","color":"#111","strokeWidth":1.8},"encoding":{"x":{"field":"x1","type":"quantitative"},"x2":{"field":"x2"},"y":{"field":"ly","type":"quantitative"}}},
  {"data":{"name":"leg"},"transform":[{"filter":"datum.p=='a2'"}],"mark":{"type":"text","align":"left"},"encoding":{"x":{"field":"tx","type":"quantitative"},"y":{"field":"ly","type":"quantitative"},"text":{"field":"lab"}}}
 ]},
{"width":2,"height":10,"data":{"values":[]},"mark":"point"},
{"width":212,"height":144,
 "encoding":{"x":{"field":"t","type":"quantitative","scale":{"domain":[-43.54,218.54],"nice":false},"axis":null}},
 "resolve":{"scale":{"y":"independent"}},
 "layer":[
  {"layer":[
   {"data":{"name":"pre"},"mark":{"type":"errorband","color":"#cdcdcd","opacity":1},"encoding":{"y":{"field":"v","type":"quantitative","scale":{"domain":[-10.32,5],"nice":false},"axis":null},"yError":{"field":"w"}}},
   {"data":{"name":"pre"},"mark":{"type":"line","color":"#111","strokeWidth":1.6},"encoding":{"y":{"field":"v","type":"quantitative","axis":null}}},
   {"data":{"name":"sb"},"transform":[{"filter":"datum.p=='pre'"}],"mark":{"type":"rule","strokeWidth":3,"color":"#000"},"encoding":{"y":{"field":"y1","type":"quantitative","axis":null},"y2":{"field":"y2"}}},
   {"data":{"name":"sb"},"transform":[{"filter":"datum.p=='pre'"}],"mark":{"type":"text","align":"right"},"encoding":{"x":{"field":"tx","type":"quantitative","axis":null},"y":{"field":"ty","type":"quantitative","axis":null},"text":{"field":"lab"}}},
   {"data":{"values":[{"tx":88.7,"ty":5.74,"lab":"CD alone (pre)"}]},"mark":{"type":"text"},"encoding":{"x":{"field":"tx","type":"quantitative","axis":null},"y":{"field":"ty","type":"quantitative","axis":null},"text":{"field":"lab"}}},
   {"data":{"values":[{"tx":-105,"ty":5.96,"lab":"b"}]},"mark":{"type":"text","align":"left","baseline":"alphabetic","fontSize":21,"fontWeight":"bold"},"encoding":{"x":{"field":"tx","type":"quantitative","axis":null},"y":{"field":"ty","type":"quantitative","axis":null},"text":{"field":"lab"}}}
  ]},
  {"layer":[
   {"data":{"name":"pair"},"mark":{"type":"line","color":"#111","strokeWidth":1.4},"encoding":{"y":{"field":"v","type":"quantitative","scale":{"domain":[40.9,178],"nice":false},"axis":null}}},
   {"data":{"name":"cur"},"mark":{"type":"line","color":"#111","strokeWidth":1.4},"encoding":{"y":{"field":"v","type":"quantitative","axis":null}}},
   {"data":{"name":"sb"},"transform":[{"filter":"datum.p=='pair'"}],"mark":{"type":"rule","strokeWidth":3,"color":"#000"},"encoding":{"y":{"field":"y1","type":"quantitative","axis":null},"y2":{"field":"y2"}}},
   {"data":{"name":"sb"},"transform":[{"filter":"datum.p=='pair'"}],"mark":{"type":"text","align":"right"},"encoding":{"x":{"field":"tx","type":"quantitative","axis":null},"y":{"field":"ty","type":"quantitative","axis":null},"text":{"field":"lab"}}},
   {"data":{"name":"arr"},"transform":[{"filter":"datum.p=='pair'"}],"mark":{"type":"rule","strokeWidth":3.2,"color":"#000"},"encoding":{"y":{"field":"ys","type":"quantitative","axis":null},"y2":{"field":"yh"}}},
   {"data":{"name":"arr"},"transform":[{"filter":"datum.p=='pair'"}],"mark":{"type":"point","shape":"M-1,-0.77L1,-0.77L0,0.77Z","size":169,"filled":true,"opacity":1,"color":"#000"},"encoding":{"y":{"field":"yh","type":"quantitative","axis":null}}},
   {"data":{"values":[{"tx":88.7,"ty":89.5,"lab":"Pairing"}]},"mark":{"type":"text"},"encoding":{"x":{"field":"tx","type":"quantitative","axis":null},"y":{"field":"ty","type":"quantitative","axis":null},"text":{"field":"lab"}}}
  ]}
 ]},
{"width":184,"height":146,
 "encoding":{"x":{"field":"t","type":"quantitative","scale":{"domain":[-25,200],"nice":false},"axis":{"values":[0,100,200],"labelExpr":"''","title":null}}},
 "layer":[
  {"data":{"name":"a3e"},"mark":{"type":"errorband","color":"#cdcdcd","opacity":1},"encoding":{"y":{"field":"e","type":"quantitative","scale":{"domain":[-4,2],"nice":false},"axis":{"values":[-4,0,2],"title":"Vₘ difference (mV)","titleX":-44,"titleY":175,"titleAngle":270,"titleAlign":"center","titleBaseline":"middle"}},"yError":{"field":"w"}}},
  {"data":{"name":"tk"},"transform":[{"filter":"datum.p=='a3'"}],"mark":{"type":"rule","color":"#000","strokeWidth":1.3},"encoding":{"x":{"datum":-25},"x2":{"datum":-20.1},"y":{"field":"v","type":"quantitative"}}},
  {"data":{"name":"a3m"},"mark":{"type":"line","color":"#4db34a","strokeWidth":1.6},"encoding":{"y":{"field":"m","type":"quantitative"}}},
  {"data":{"name":"a3e"},"mark":{"type":"line","color":"#111","strokeWidth":1.8},"encoding":{"y":{"field":"e","type":"quantitative"}}},
  {"data":{"name":"arr"},"transform":[{"filter":"datum.p=='a3'"}],"mark":{"type":"rule","strokeWidth":3.2,"color":"#000"},"encoding":{"y":{"field":"ys","type":"quantitative"},"y2":{"field":"yh"}}},
  {"data":{"name":"arr"},"transform":[{"filter":"datum.p=='a3'"}],"mark":{"type":"point","shape":"M-0.857,-1L0.857,-1L0,1Z","size":196,"filled":true,"opacity":1,"color":"#000"},"encoding":{"y":{"field":"yh","type":"quantitative"}}},
  {"data":{"name":"arr"},"transform":[{"filter":"datum.p=='a3'"}],"mark":{"type":"text"},"encoding":{"x":{"field":"tx","type":"quantitative"},"y":{"field":"ty","type":"quantitative"},"text":{"field":"lab"}}}
 ]},
{"width":191,"height":146,
 "encoding":{"x":{"field":"t","type":"quantitative","scale":{"domain":[-25,200],"nice":false},"axis":{"values":[0,100,200],"labelExpr":"''","title":null}}},
 "layer":[
  {"data":{"name":"a4e"},"mark":{"type":"errorband","color":"#cdcdcd","opacity":1},"encoding":{"y":{"field":"e","type":"quantitative","scale":{"domain":[-3,2],"nice":false},"axis":{"values":[-3,0,2],"title":null}},"yError":{"field":"w"}}},
  {"data":{"name":"tk"},"transform":[{"filter":"datum.p=='a4'"}],"mark":{"type":"rule","color":"#000","strokeWidth":1.3},"encoding":{"x":{"datum":-25},"x2":{"datum":-20.3},"y":{"field":"v","type":"quantitative"}}},
  {"data":{"name":"a4m"},"mark":{"type":"line","color":"#4db34a","strokeWidth":1.6},"encoding":{"y":{"field":"m","type":"quantitative"}}},
  {"data":{"name":"a4e"},"mark":{"type":"line","color":"#111","strokeWidth":1.8},"encoding":{"y":{"field":"e","type":"quantitative"}}},
  {"data":{"name":"arr"},"transform":[{"filter":"datum.p=='a4'"}],"mark":{"type":"rule","strokeWidth":3.2,"color":"#000"},"encoding":{"y":{"field":"ys","type":"quantitative"},"y2":{"field":"yh"}}},
  {"data":{"name":"arr"},"transform":[{"filter":"datum.p=='a4'"}],"mark":{"type":"point","shape":"M-0.857,-1L0.857,-1L0,1Z","size":196,"filled":true,"opacity":1,"color":"#000"},"encoding":{"y":{"field":"yh","type":"quantitative"}}},
  {"data":{"name":"arr"},"transform":[{"filter":"datum.p=='a4'"}],"mark":{"type":"text"},"encoding":{"x":{"field":"tx","type":"quantitative"},"y":{"field":"ty","type":"quantitative"},"text":{"field":"lab"}}}
 ]},
{"width":2,"height":10,"data":{"values":[]},"mark":"point"},
{"width":212,"height":146,
 "encoding":{"x":{"field":"t","type":"quantitative","scale":{"domain":[-43.54,218.54],"nice":false},"axis":null}},
 "layer":[
  {"data":{"name":"post"},"mark":{"type":"errorband","color":"#cdcdcd","opacity":1},"encoding":{"y":{"field":"v","type":"quantitative","scale":{"domain":[-1.46,14.16],"nice":false},"axis":null},"yError":{"field":"w"}}},
  {"data":{"name":"post"},"mark":{"type":"line","color":"#111","strokeWidth":1.6},"encoding":{"y":{"field":"v","type":"quantitative","axis":null}}},
  {"data":{"name":"sb"},"transform":[{"filter":"datum.p=='post'"}],"mark":{"type":"rule","strokeWidth":3,"color":"#000"},"encoding":{"y":{"field":"y1","type":"quantitative","axis":null},"y2":{"field":"y2"}}},
  {"data":{"name":"sb"},"transform":[{"filter":"datum.p=='post'"}],"mark":{"type":"text","align":"right"},"encoding":{"x":{"field":"tx","type":"quantitative","axis":null},"y":{"field":"ty","type":"quantitative","axis":null},"text":{"field":"lab"}}},
  {"data":{"values":[{"tx":88.7,"ty":9.34,"lab":"CD alone (post)"}]},"mark":{"type":"text"},"encoding":{"x":{"field":"tx","type":"quantitative","axis":null},"y":{"field":"ty","type":"quantitative","axis":null},"text":{"field":"lab"}}}
 ]},
{"width":184,"height":147,
 "encoding":{"x":{"field":"t","type":"quantitative","scale":{"domain":[-25,200],"nice":false},"axis":{"values":[0,100,200],"labelExpr":"''","title":null}}},
 "layer":[
  {"data":{"name":"a5e"},"mark":{"type":"errorband","color":"#cdcdcd","opacity":1},"encoding":{"y":{"field":"e","type":"quantitative","scale":{"domain":[-2,3],"nice":false},"axis":{"values":[-2,0,3],"title":null}},"yError":{"field":"w"}}},
  {"data":{"name":"tk"},"transform":[{"filter":"datum.p=='a5'"}],"mark":{"type":"rule","color":"#000","strokeWidth":1.3},"encoding":{"x":{"datum":-25},"x2":{"datum":-20.1},"y":{"field":"v","type":"quantitative"}}},
  {"data":{"name":"a5m"},"mark":{"type":"line","color":"#4db34a","strokeWidth":1.6},"encoding":{"y":{"field":"m","type":"quantitative"}}},
  {"data":{"name":"a5e"},"mark":{"type":"line","color":"#111","strokeWidth":1.8},"encoding":{"y":{"field":"e","type":"quantitative"}}},
  {"data":{"name":"arr"},"transform":[{"filter":"datum.p=='a5'"}],"mark":{"type":"rule","strokeWidth":3.2,"color":"#000"},"encoding":{"y":{"field":"ys","type":"quantitative"},"y2":{"field":"yh"}}},
  {"data":{"name":"arr"},"transform":[{"filter":"datum.p=='a5'"}],"mark":{"type":"point","shape":"M-0.857,-1L0.857,-1L0,1Z","size":196,"filled":true,"opacity":1,"color":"#000"},"encoding":{"y":{"field":"yh","type":"quantitative"}}},
  {"data":{"name":"arr"},"transform":[{"filter":"datum.p=='a5'"}],"mark":{"type":"text"},"encoding":{"x":{"field":"tx","type":"quantitative"},"y":{"field":"ty","type":"quantitative"},"text":{"field":"lab"}}}
 ]},
{"width":191,"height":147,
 "encoding":{"x":{"field":"t","type":"quantitative","scale":{"domain":[-25,200],"nice":false},"axis":{"values":[0,100,200],"labelExpr":"''","title":null}}},
 "layer":[
  {"data":{"name":"a6e"},"mark":{"type":"errorband","color":"#cdcdcd","opacity":1},"encoding":{"y":{"field":"e","type":"quantitative","scale":{"domain":[-2,3],"nice":false},"axis":{"values":[-2,0,3],"title":null}},"yError":{"field":"w"}}},
  {"data":{"name":"tk"},"transform":[{"filter":"datum.p=='a6'"}],"mark":{"type":"rule","color":"#000","strokeWidth":1.3},"encoding":{"x":{"datum":-25},"x2":{"datum":-20.3},"y":{"field":"v","type":"quantitative"}}},
  {"data":{"name":"a6m"},"mark":{"type":"line","color":"#4db34a","strokeWidth":1.6},"encoding":{"y":{"field":"m","type":"quantitative"}}},
  {"data":{"name":"a6e"},"mark":{"type":"line","color":"#111","strokeWidth":1.8},"encoding":{"y":{"field":"e","type":"quantitative"}}},
  {"data":{"name":"arr"},"transform":[{"filter":"datum.p=='a6'"}],"mark":{"type":"rule","strokeWidth":3.2,"color":"#000"},"encoding":{"y":{"field":"ys","type":"quantitative"},"y2":{"field":"yh"}}},
  {"data":{"name":"arr"},"transform":[{"filter":"datum.p=='a6'"}],"mark":{"type":"point","shape":"M-0.857,-1L0.857,-1L0,1Z","size":196,"filled":true,"opacity":1,"color":"#000"},"encoding":{"y":{"field":"yh","type":"quantitative"}}},
  {"data":{"name":"arr"},"transform":[{"filter":"datum.p=='a6'"}],"mark":{"type":"text"},"encoding":{"x":{"field":"tx","type":"quantitative"},"y":{"field":"ty","type":"quantitative"},"text":{"field":"lab"}}}
 ]},
{"width":2,"height":10,"data":{"values":[]},"mark":"point"},
{"width":212,"height":123,
 "encoding":{"x":{"field":"t","type":"quantitative","scale":{"domain":[-43.54,218.54],"nice":false},"axis":{"values":[0,100,200],"domain":false,"labelExpr":"datum.value==0?'Cmnd':datum.value==200?'200 ms':''","labelAlign":{"condition":{"test":"datum.value==200","value":"right"},"value":"center"},"labelOffset":{"condition":{"test":"datum.value==200","value":15},"value":0},"title":null}}},
 "layer":[
  {"data":{"name":"pp"},"mark":{"type":"line","color":"#111","strokeWidth":1.6},"encoding":{"y":{"field":"v","type":"quantitative","scale":{"domain":[-4,7.83],"nice":false},"axis":{"values":[-4,0,6],"domain":false,"offset":-15,"title":"Vₘ difference (mV)","titleX":-43,"titleY":76,"titleAngle":270,"titleAlign":"center","titleBaseline":"middle"}}}},
  {"data":{"name":"tk"},"transform":[{"filter":"datum.p=='pp'"}],"mark":{"type":"rule","color":"#000","strokeWidth":1.3},"encoding":{"x":{"datum":-25},"x2":{"datum":-20.05},"y":{"field":"v","type":"quantitative"}}},
  {"data":{"name":"arr"},"transform":[{"filter":"datum.p=='pp'"}],"mark":{"type":"rule","strokeWidth":3.2,"color":"#000"},"encoding":{"y":{"field":"ys","type":"quantitative"},"y2":{"field":"yh"}}},
  {"data":{"name":"arr"},"transform":[{"filter":"datum.p=='pp'"}],"mark":{"type":"point","shape":"M-0.857,-1L0.857,-1L0,1Z","size":196,"filled":true,"opacity":1,"color":"#000"},"encoding":{"y":{"field":"yh","type":"quantitative"}}},
  {"data":{"values":[{"x1":-25,"x2":200,"ly":-4}]},"mark":{"type":"rule","color":"#000","strokeWidth":1.3},"encoding":{"x":{"field":"x1","type":"quantitative"},"x2":{"field":"x2"},"y":{"field":"ly","type":"quantitative"}}},
  {"data":{"values":[{"t":-25,"y1":-4,"y2":6}]},"mark":{"type":"rule","color":"#000","strokeWidth":1.3},"encoding":{"y":{"field":"y1","type":"quantitative"},"y2":{"field":"y2"}}},
  {"data":{"values":[{"tx":88.7,"ty":7.44,"lab":"Post − pre"}]},"mark":{"type":"text"},"encoding":{"x":{"field":"tx","type":"quantitative"},"y":{"field":"ty","type":"quantitative"},"text":{"field":"lab"}}}
 ]},
{"width":184,"height":145,
 "encoding":{"x":{"field":"t","type":"quantitative","scale":{"domain":[-25,200],"nice":false},"axis":{"values":[0,100,200],"labelExpr":"''","title":null}}},
 "layer":[
  {"data":{"name":"a7e"},"mark":{"type":"errorband","color":"#cdcdcd","opacity":1},"encoding":{"y":{"field":"e","type":"quantitative","scale":{"domain":[-2,2],"nice":false},"axis":{"values":[-2,0,2],"title":null}},"yError":{"field":"w"}}},
  {"data":{"name":"tk"},"transform":[{"filter":"datum.p=='a7'"}],"mark":{"type":"rule","color":"#000","strokeWidth":1.3},"encoding":{"x":{"datum":-25},"x2":{"datum":-20.1},"y":{"field":"v","type":"quantitative"}}},
  {"data":{"name":"a7m"},"mark":{"type":"line","color":"#4db34a","strokeWidth":1.6},"encoding":{"y":{"field":"m","type":"quantitative"}}},
  {"data":{"name":"a7e"},"mark":{"type":"line","color":"#111","strokeWidth":1.8},"encoding":{"y":{"field":"e","type":"quantitative"}}},
  {"data":{"name":"arr"},"transform":[{"filter":"datum.p=='a7'"}],"mark":{"type":"rule","strokeWidth":3.2,"color":"#000"},"encoding":{"y":{"field":"ys","type":"quantitative"},"y2":{"field":"yh"}}},
  {"data":{"name":"arr"},"transform":[{"filter":"datum.p=='a7'"}],"mark":{"type":"point","shape":"M-0.857,-1L0.857,-1L0,1Z","size":196,"filled":true,"opacity":1,"color":"#000"},"encoding":{"y":{"field":"yh","type":"quantitative"}}},
  {"data":{"name":"arr"},"transform":[{"filter":"datum.p=='a7'"}],"mark":{"type":"text"},"encoding":{"x":{"field":"tx","type":"quantitative"},"y":{"field":"ty","type":"quantitative"},"text":{"field":"lab"}}}
 ]},
{"width":191,"height":145,
 "encoding":{"x":{"field":"t","type":"quantitative","scale":{"domain":[-25,200],"nice":false},"axis":{"values":[0,100,200],"labelExpr":"datum.value==0?'Cmnd':datum.value==200?'200 ms':''","labelAlign":{"condition":{"test":"datum.value==200","value":"right"},"value":"center"},"labelOffset":{"condition":{"test":"datum.value==200","value":7},"value":0},"title":null}}},
 "layer":[
  {"data":{"name":"a8m"},"mark":{"type":"line","color":"#4db34a","strokeWidth":1.6},"encoding":{"y":{"field":"m","type":"quantitative","scale":{"domain":[-2,3],"nice":false},"axis":{"values":[-2,0,3],"title":null}}}},
  {"data":{"name":"tk"},"transform":[{"filter":"datum.p=='a8'"}],"mark":{"type":"rule","color":"#000","strokeWidth":1.3},"encoding":{"x":{"datum":-25},"x2":{"datum":-20.3},"y":{"field":"v","type":"quantitative"}}},
  {"data":{"name":"a8d"},"mark":{"type":"line","color":"#4db34a","strokeWidth":1.6,"strokeDash":[6,4]},"encoding":{"y":{"field":"m","type":"quantitative"}}},
  {"data":{"name":"arr"},"transform":[{"filter":"datum.p=='a8'"}],"mark":{"type":"rule","strokeWidth":3.2,"color":"#000"},"encoding":{"y":{"field":"ys","type":"quantitative"},"y2":{"field":"yh"}}},
  {"data":{"name":"arr"},"transform":[{"filter":"datum.p=='a8'"}],"mark":{"type":"point","shape":"M-0.857,-1L0.857,-1L0,1Z","size":196,"filled":true,"opacity":1,"color":"#000"},"encoding":{"y":{"field":"yh","type":"quantitative"}}},
  {"data":{"name":"arr"},"transform":[{"filter":"datum.p=='a8'"}],"mark":{"type":"text"},"encoding":{"x":{"field":"tx","type":"quantitative"},"y":{"field":"ty","type":"quantitative"},"text":{"field":"lab"}}},
  {"data":{"name":"leg"},"transform":[{"filter":"datum.p=='a8' && datum.lab=='Delay line'"}],"mark":{"type":"rule","color":"#4db34a","strokeWidth":1.6,"strokeDash":[6,4]},"encoding":{"x":{"field":"x1","type":"quantitative"},"x2":{"field":"x2"},"y":{"field":"ly","type":"quantitative"}}},
  {"data":{"name":"leg"},"transform":[{"filter":"datum.p=='a8' && datum.lab=='Model'"}],"mark":{"type":"rule","color":"#4db34a","strokeWidth":1.6},"encoding":{"x":{"field":"x1","type":"quantitative"},"x2":{"field":"x2"},"y":{"field":"ly","type":"quantitative"}}},
  {"data":{"name":"leg"},"transform":[{"filter":"datum.p=='a8'"}],"mark":{"type":"text","align":"left"},"encoding":{"x":{"field":"tx","type":"quantitative"},"y":{"field":"ly","type":"quantitative"},"text":{"field":"lab"}}}
 ]},
{"width":2,"height":10,"data":{"values":[]},"mark":"point"},
{"width":212,"height":130,
 "encoding":{"x":{"field":"t","type":"quantitative","scale":{"domain":[-50,50],"nice":false},"axis":{"values":[-50,-25,0,25,50],"labelExpr":"datum.value==-50?datum.label:datum.value==0?'0':datum.value==50?'50 ms':''","labelAlign":{"condition":{"test":"datum.value==50","value":"right"},"value":"center"},"title":"t(MG spike) - t(GC spike)","titlePadding":2}}},
 "layer":[
  {"data":{"name":"cc"},"mark":{"type":"line","color":"#111","strokeWidth":1.8},"encoding":{"y":{"field":"y","type":"quantitative","scale":{"domain":[-9.2,3.8],"nice":false},"axis":{"values":[0],"domain":false,"labelPadding":10,"title":null}}}},
  {"data":{"values":[{"t":-50,"y1":-9.2,"y2":3}]},"mark":{"type":"rule","color":"#000","strokeWidth":1.3},"encoding":{"y":{"field":"y1","type":"quantitative"},"y2":{"field":"y2"}}},
  {"data":{"values":[{"x1":-50,"x2":50,"ly":0}]},"mark":{"type":"rule","color":"#8c8c8c","strokeWidth":1.2,"strokeDash":[5,4]},"encoding":{"x":{"field":"x1","type":"quantitative"},"x2":{"field":"x2"},"y":{"field":"ly","type":"quantitative"}}},
  {"data":{"values":[{"t":0,"y1":3,"y2":-9.2}]},"mark":{"type":"rule","color":"#8c8c8c","strokeWidth":1.2,"strokeDash":[5,4]},"encoding":{"y":{"field":"y1","type":"quantitative"},"y2":{"field":"y2"}}},
  {"data":{"values":[{"t":5.3,"y1":0.83,"y2":-8.27}]},"mark":{"type":"rule","color":"#111","strokeWidth":1.8},"encoding":{"y":{"field":"y1","type":"quantitative"},"y2":{"field":"y2"}}},
  {"data":{"values":[{"i":0,"t":-12,"ly":0.83},{"i":1,"t":-12,"ly":0.1},{"i":2,"t":-21.4,"ly":-2}]},"mark":{"type":"line","color":"#111","strokeWidth":1.5},"encoding":{"y":{"field":"ly","type":"quantitative"},"order":{"field":"i"}}},
  {"data":{"values":[{"x1":5.3,"x2":24.1,"y1":-2.33,"y2":-4.33}]},"mark":{"type":"rule","color":"#111","strokeWidth":1.5},"encoding":{"x":{"field":"x1","type":"quantitative"},"x2":{"field":"x2"},"y":{"field":"y1","type":"quantitative"},"y2":{"field":"y2"}}},
  {"data":{"values":[{"tx":-26.9,"ty":-2.9,"lab":"Δ+"},{"tx":30.7,"ty":-5.1,"lab":"Δ-"}]},"mark":{"type":"text"},"encoding":{"x":{"field":"tx","type":"quantitative"},"y":{"field":"ty","type":"quantitative"},"text":{"field":"lab"}}},
  {"data":{"values":[{"tx":-69.3,"ty":-2.5,"lab":"Δw"},{"tx":-62.7,"ty":-2.5,"lab":"w"}]},"mark":{"type":"text","angle":270},"encoding":{"x":{"field":"tx","type":"quantitative"},"y":{"field":"ty","type":"quantitative"},"text":{"field":"lab"}}},
  {"data":{"values":[{"t":-66.3,"y1":-0.7,"y2":-4.3}]},"mark":{"type":"rule","color":"#111","strokeWidth":1.5},"encoding":{"y":{"field":"y1","type":"quantitative"},"y2":{"field":"y2"}}},
  {"data":{"values":[{"tx":-71.7,"ty":1.3,"lab":"c"}]},"mark":{"type":"text","align":"left","baseline":"alphabetic","fontSize":21,"fontWeight":"bold"},"encoding":{"x":{"field":"tx","type":"quantitative"},"y":{"field":"ty","type":"quantitative"},"text":{"field":"lab"}}}
 ]}
]
}
